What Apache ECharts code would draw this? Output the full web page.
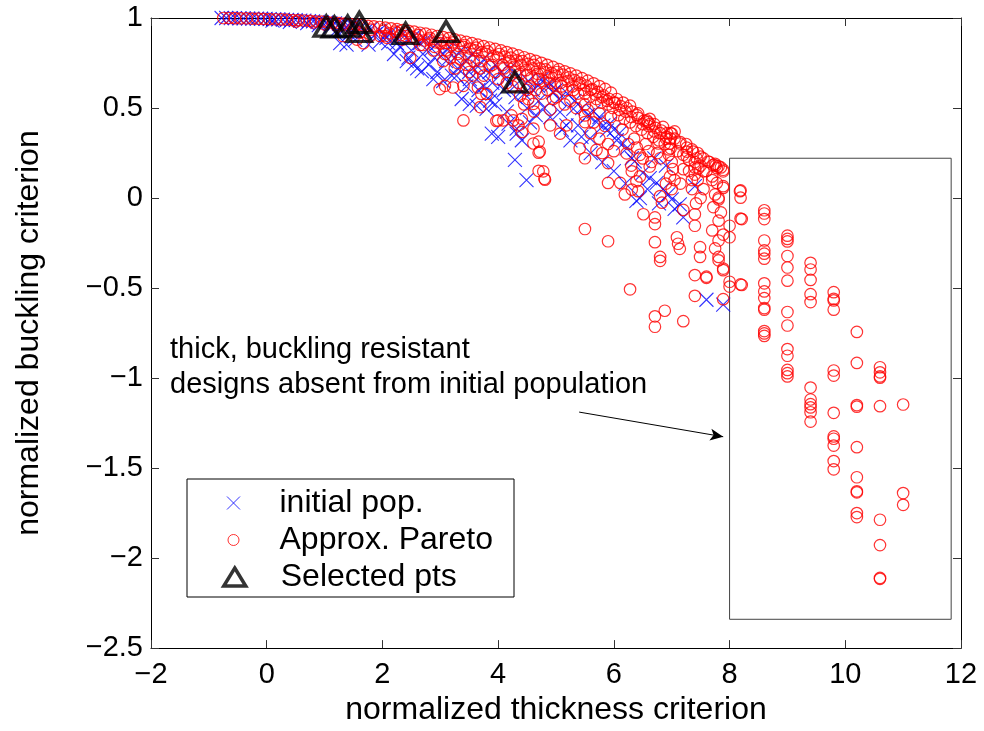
<!DOCTYPE html>
<html><head><meta charset="utf-8">
<script src="https://cdn.jsdelivr.net/npm/echarts@6/dist/echarts.min.js"></script>
<style>html,body{margin:0;padding:0;background:#fff}#c{width:984px;height:731px}</style>
</head><body><div id="c"></div><script>
// ---- data ----
const xRange = [-2, 12, 2];
const yRange = [-2.5, 1, 0.5];

const initialPop = [
[-0.78,1.0],[-0.7,1.0],[-0.62,0.999],[-0.55,0.999],[-0.47,0.998],[-0.4,0.998],[-0.32,0.997],[-0.25,0.997],[-0.17,0.996],[-0.1,0.996],
[-0.02,0.995],[0.05,0.994],[0.13,0.993],[0.2,0.992],[0.28,0.991],[0.35,0.99],[0.43,0.989],[0.5,0.988],[0.58,0.986],[0.65,0.985],
[0.73,0.983],[0.8,0.981],[0.88,0.979],[0.95,0.977],[1.03,0.975],[1.1,0.972],[1.18,0.97],[1.25,0.967],[1.33,0.964],[1.4,0.961],
[1.48,0.958],[1.55,0.955],[0.1,0.985],[0.4,0.978],[0.7,0.972],[0.9,0.96],[1.1,0.95],[1.2,0.93],[1.35,0.94],[1.45,0.92],
[1.27,0.861],[1.38,0.852],[1.53,0.879],[1.76,0.852],[1.96,0.87],[2.07,0.889],[2.25,0.861],
[1.62,0.945],[1.7,0.925],[1.8,0.94],[1.88,0.91],[1.95,0.93],[2.05,0.905],[2.15,0.92],[2.25,0.89],[2.35,0.91],[2.45,0.88],
[2.55,0.9],[2.65,0.86],[2.75,0.88],[2.85,0.83],[2.95,0.86],[3.05,0.8],[3.15,0.84],[3.25,0.78],[3.35,0.82],[3.45,0.76],
[3.55,0.8],[3.65,0.73],[3.75,0.77],[3.85,0.7],[3.95,0.74],
[2.1,0.86],[2.3,0.84],[2.5,0.82],[2.7,0.8],[2.9,0.78],[3.1,0.76],[3.3,0.72],[3.5,0.7],[3.7,0.68],[3.9,0.64],
[4.1,0.6],[4.3,0.56],[4.5,0.5],[4.65,0.46],[2.2,0.8],[2.45,0.78],[2.8,0.74],[3.2,0.68],[3.45,0.62],[3.95,0.52],
[4.15,0.48],[4.55,0.42],[4.9,0.45],[5.1,0.38],[5.25,0.32],
[2.42,0.76],[2.53,0.742],[2.6,0.72],[2.68,0.705],[2.88,0.66],[2.95,0.7],[3.05,0.65],
[3.28,0.678],[3.51,0.66],[3.37,0.55],[3.51,0.523],[3.63,0.513],[3.66,0.6],[3.8,0.495],[3.86,0.541],[3.89,0.358],[4.0,0.34],
[4.32,0.358],[4.41,0.321],[4.29,0.212],[4.49,0.1],[4.18,0.413],[4.32,0.386],[3.75,0.62],[3.9,0.58],
[4.05,0.7],[4.12,0.66],[4.2,0.72],[4.28,0.62],[4.35,0.68],[4.45,0.58],[4.52,0.65],[4.6,0.6],[4.69,0.623],[4.75,0.66],
[4.84,0.623],[4.95,0.587],[4.7,0.54],[4.8,0.5],[4.92,0.63],[5.0,0.6],[5.05,0.55],
[5.07,0.477],[5.18,0.404],[5.3,0.495],[5.38,0.404],[5.44,0.34],[5.59,0.331],[5.7,0.422],[5.82,0.404],[5.93,0.413],[5.88,0.376],
[5.2,0.58],[5.32,0.54],[5.45,0.5],[5.55,0.46],[5.65,0.48],[5.75,0.45],[5.6,0.25],[5.8,0.2],[6.0,0.15],[6.2,0.08],
[6.05,0.321],[6.16,0.303],[6.22,0.276],[6.31,0.221],[6.36,0.203],[6.0,0.38],[6.1,0.36],[6.7,0.22],[6.9,0.18],
[6.39,-0.016],[6.62,0.111],[6.74,0.084],[6.94,0.02],[7.0,-0.008],[7.14,-0.035],[7.2,-0.108],[6.5,0.14],[6.58,0.05],[6.85,0.05],
[7.05,-0.06],[7.4,0.066],[7.6,-0.565],[7.89,-0.592],[6.45,0.0],[6.78,-0.03]
];

const approxPareto = [
[-0.75,1.0],[-0.65,1.0],[-0.55,0.999],[-0.45,0.998],[-0.35,0.998],[-0.25,0.997],[-0.15,0.996],[-0.05,0.995],[0.05,0.994],[0.15,0.993],
[0.25,0.992],[0.35,0.991],[0.45,0.989],[0.55,0.988],[0.65,0.986],[0.75,0.984],[0.85,0.982],[0.95,0.98],[1.05,0.977],[1.15,0.975],
[1.25,0.972],[1.35,0.969],[1.45,0.966],[1.55,0.963],[1.65,0.96],[1.75,0.956],[1.85,0.953],[1.95,0.95],[2.05,0.946],[2.15,0.942],
[2.25,0.938],[2.35,0.933],[2.45,0.929],[2.55,0.924],[2.65,0.918],[2.75,0.913],[2.85,0.907],[2.95,0.9],[3.05,0.894],[3.15,0.888],
[3.25,0.881],[3.35,0.874],[3.45,0.867],[3.55,0.86],[3.65,0.852],[3.75,0.844],[3.85,0.836],[3.95,0.828],[4.05,0.82],[4.15,0.811],
[4.25,0.802],[4.35,0.792],[4.45,0.782],[4.55,0.772],[4.65,0.762],[4.75,0.751],[4.85,0.74],[4.95,0.728],[5.05,0.716],[5.15,0.704],
[5.25,0.692],[5.35,0.68],[5.45,0.666],[5.55,0.652],[5.65,0.637],[5.75,0.622],[5.85,0.606],[5.95,0.585],[6.05,0.55],[6.16,0.53],
[6.28,0.513],[6.42,0.47],[6.57,0.431],[6.7,0.41],[6.85,0.395],[7.0,0.358],[7.14,0.303],[7.26,0.28],[7.37,0.258],[7.5,0.23],
[7.63,0.203],[7.76,0.18],[7.89,0.157],
[0.5,0.98],[0.8,0.975],[1.0,0.965],[1.2,0.96],[1.5,0.945],[1.8,0.935],[1.6,0.92],
[2.02,0.93],[2.12,0.915],[2.22,0.925],[2.32,0.905],[2.42,0.915],[2.52,0.895],[2.62,0.905],[2.72,0.875],[2.82,0.89],[2.92,0.865],
[2.05,0.9],[2.35,0.88],[2.65,0.85],[2.88,0.82],
[3.02,0.875],[3.12,0.86],[3.22,0.865],[3.32,0.845],[3.42,0.85],[3.52,0.83],[3.62,0.835],[3.72,0.81],[3.82,0.815],[3.92,0.79],
[3.08,0.8],[3.18,0.78],[3.35,0.77],[3.45,0.74],[3.58,0.76],[3.68,0.72],[3.85,0.73],[3.95,0.7],[3.55,0.68],[3.3,0.75],
[4.02,0.8],[4.12,0.785],[4.22,0.78],[4.32,0.765],[4.42,0.76],[4.52,0.745],[4.62,0.74],[4.72,0.72],[4.82,0.715],[4.92,0.695],
[4.08,0.74],[4.18,0.7],[4.28,0.73],[4.38,0.69],[4.48,0.71],[4.58,0.67],[4.68,0.69],[4.78,0.65],[4.88,0.67],[4.98,0.63],
[4.15,0.64],[4.35,0.64],[4.55,0.62],[4.65,0.6],[4.85,0.6],[4.95,0.55],[4.45,0.52],[4.62,0.48],
[5.02,0.7],[5.12,0.685],[5.22,0.67],[5.32,0.655],[5.42,0.64],[5.52,0.625],[5.62,0.605],[5.72,0.59],[5.82,0.57],[5.92,0.55],
[5.08,0.64],[5.18,0.6],[5.28,0.62],[5.38,0.58],[5.48,0.6],[5.58,0.56],[5.68,0.575],[5.78,0.53],[5.88,0.54],[5.98,0.5],
[5.15,0.52],[5.35,0.5],[5.55,0.49],[5.75,0.47],[5.95,0.45],[5.65,0.42],[5.85,0.4],
[5.6,0.36],[5.75,0.33],[5.9,0.3],[6.0,0.26],[5.8,0.25],
[6.02,0.53],[6.12,0.51],[6.22,0.5],[6.32,0.48],[6.42,0.445],[6.52,0.43],[6.62,0.41],[6.72,0.39],[6.82,0.375],[6.92,0.36],
[6.08,0.46],[6.18,0.44],[6.28,0.42],[6.38,0.4],[6.48,0.38],[6.58,0.36],[6.68,0.34],[6.78,0.32],[6.88,0.3],[6.95,0.27],
[6.15,0.38],[6.35,0.33],[6.55,0.3],[6.75,0.25],[6.45,0.24],[6.65,0.2],
[6.25,0.3],[6.4,0.28],[6.5,0.22],[6.6,0.26],[6.3,0.18],[6.45,0.12],
[6.95,0.24],[7.0,0.2],[7.02,0.16],[6.97,0.12],[7.05,0.1],[6.9,0.08],[7.0,0.05],
[7.05,0.33],[7.15,0.31],[7.25,0.3],[7.35,0.27],[7.45,0.25],[7.55,0.22],[7.65,0.2],[7.75,0.19],[7.85,0.17],[7.1,0.26],
[7.2,0.24],[7.3,0.21],[7.5,0.18],[7.6,0.15],[7.7,0.12],[7.2,0.16],[7.35,0.1],[7.55,0.05],[7.15,0.08],
[7.3,0.15],[7.45,0.1],[7.35,0.05],[7.5,0.0],[7.42,-0.03],
[7.7,0.1],[7.75,0.02],[7.72,-0.05],[7.85,-0.08],[7.7,-0.18],[7.75,-0.28],
[1.32,0.9],[1.56,0.88],[1.67,0.86],[1.79,0.9],[1.96,0.9],[2.08,0.89],[2.25,0.92],[2.4,0.9],[2.48,0.779],[2.6,0.88],
[2.7,0.85],[2.8,0.88],[2.9,0.84],[3.0,0.86],[3.1,0.82],[3.2,0.85],[3.3,0.8],[3.4,0.84],[3.5,0.78],[3.6,0.82],
[3.7,0.76],[3.8,0.8],[3.9,0.74],[4.0,0.78],[4.1,0.72],[4.2,0.76],[4.3,0.7],[4.4,0.74],[4.5,0.68],[4.6,0.72],
[4.7,0.66],[4.8,0.7],[4.9,0.64],[5.0,0.68],[5.1,0.62],[5.2,0.65],[5.3,0.6],[5.4,0.63],[5.5,0.58],[5.6,0.6],
[5.7,0.55],[5.8,0.56],[5.9,0.52],[6.0,0.53],[6.1,0.49],[6.2,0.48],[6.3,0.45],[6.4,0.46],[6.5,0.41],[6.6,0.4],
[6.7,0.37],[6.8,0.36],[6.9,0.33],
[3.05,0.76],[3.25,0.72],[3.5,0.7],[3.75,0.68],[4.0,0.66],[4.25,0.62],[4.5,0.6],[4.75,0.58],[5.0,0.56],[5.25,0.54],[5.5,0.52],
[2.99,0.605],[3.08,0.623],[3.22,0.614],[3.4,0.623],[3.4,0.431],[3.65,0.614],[3.71,0.578],[3.69,0.505],[3.8,0.578],
[4.0,0.431],[4.09,0.431],[4.23,0.459],[4.35,0.404],[4.41,0.367],[4.61,0.386],[4.7,0.313],[4.72,0.258],[4.78,0.148],[4.81,0.102],
[4.38,0.568],[4.52,0.55],[4.61,0.523],[3.97,0.428],[4.26,0.431],[4.41,0.44],[4.61,0.303],[4.7,0.252],[4.7,0.151],[4.8,0.107],
[4.9,0.491],[4.9,0.404],[5.07,0.358],[5.18,0.404],[5.5,0.459],[5.5,0.422],[5.41,0.276],[5.5,0.221],[5.5,-0.172],[5.7,0.267],
[5.9,0.194],[5.9,0.084],[5.9,-0.24],
[6.11,0.084],[6.19,0.02],[6.31,0.047],[6.22,0.248],[6.31,0.148],[6.28,-0.507],[6.39,0.093],[6.42,0.038],[6.51,-0.09],[6.59,0.422],
[6.62,0.44],[6.62,0.175],[6.71,-0.245],[6.71,-0.108],[6.71,-0.145],[6.8,-0.327],[6.8,-0.349],[6.71,-0.657],[6.71,-0.715],[6.88,-0.626],
[6.8,0.011],[6.83,-0.026],[6.91,0.34],[6.97,0.303],[6.98,0.276],[6.77,0.303],[6.8,0.221],[6.98,0.33],[6.98,0.36],[7.05,0.37],
[7.09,-0.218],[7.11,-0.254],[7.14,-0.282],[7.2,-0.066],[7.2,-0.684],[7.26,0.258],[7.26,0.23],[7.4,-0.09],[7.4,-0.154],[7.4,-0.428],
[7.4,-0.543],[7.49,-0.327],[7.49,-0.273],[7.6,-0.437],[7.78,0.084],[7.81,0.002],[7.81,-0.126],[7.81,-0.236],[7.81,-0.327],[7.81,-0.346],
[7.89,0.056],[7.89,-0.392],[7.89,-0.562],[8.0,-0.154],[8.0,-0.218],[8.0,-0.465],[8.0,-0.492],[8.21,-0.483],[8.18,0.038],[8.21,-0.117],
[7.43,0.221],[7.46,0.166],[7.55,0.148],[7.72,0.184],[7.78,0.166],[7.89,0.066],[7.4,0.2],[7.4,0.17],[7.4,0.13],[7.81,0.176],
[7.89,0.148],[7.81,-0.008],[7.89,-0.203],[7.6,-0.443],[7.89,-0.401],
[8.19,0.042],[8.19,0.002],[8.19,-0.114],[8.19,-0.48],
[8.6,-0.068],[8.6,-0.086],[8.6,-0.117],[8.6,-0.236],[8.6,-0.291],[8.6,-0.309],[8.6,-0.337],[8.6,-0.474],[8.6,-0.519],[8.6,-0.556],
[8.6,-0.611],[8.6,-0.62],[8.6,-0.739],[8.6,-0.752],[8.6,-0.766],
[9.0,-0.209],[9.0,-0.227],[9.0,-0.241],[9.0,-0.322],[9.0,-0.386],[9.0,-0.459],[9.0,-0.633],[9.0,-0.708],[9.0,-0.839],[9.0,-0.876],
[9.0,-0.955],[9.0,-0.973],[9.0,-0.991],
[9.4,-0.36],[9.4,-0.397],[9.4,-0.455],[9.4,-0.534],[9.4,-0.578],[9.4,-1.053],[9.4,-1.119],[9.4,-1.145],[9.4,-1.163],[9.4,-1.19],[9.4,-1.242],
[9.8,-0.523],[9.8,-0.56],[9.8,-0.569],[9.8,-0.62],[9.8,-0.958],[9.8,-0.986],[9.8,-1.193],[9.8,-1.324],[9.8,-1.337],[9.8,-1.375],[9.8,-1.461],[9.8,-1.507],
[10.2,-0.744],[10.2,-0.916],[10.2,-1.15],[10.2,-1.159],[10.2,-1.384],[10.2,-1.551],[10.2,-1.629],[10.2,-1.635],[10.2,-1.75],[10.2,-1.772],
[10.6,-0.94],[10.6,-0.968],[10.6,-0.991],[10.6,-0.998],[10.6,-1.156],[10.6,-1.787],[10.6,-1.928],[10.6,-2.11],[10.6,-2.115],
[11.0,-1.147],[11.0,-1.639],[11.0,-1.704]
];

const selectedPts = [
[1.03,0.955],[1.17,0.95],[1.4,0.955],[1.6,0.975],[1.6,0.925],[2.4,0.915],[3.1,0.925],[4.29,0.645]
];

// annotation box: [xmin, xmax, ymax, ymin] and arrow endpoints (data units)
const annotBox = [8.0, 11.83, 0.221, -2.34];
const arrowFrom = [5.4, -1.189];
const arrowTo = [7.89, -1.326];

const seriesNames = ['initial pop.', 'Approx. Pareto', 'Selected pts'];
const annotLines = ['thick, buckling resistant', 'designs absent from initial population'];
const xTitle = 'normalized thickness criterion';
const yTitle = 'normalized buckling criterion';

// ---- chart ----
const FONT = 'Liberation Sans, Arial, Helvetica, sans-serif';
const X_PATH = 'path://M0,0L10,10M10,0L0,10';
const fmt = v => String(v).replace('-', '\u2212');

const boxPath = [
  [annotBox[0], annotBox[2]], [annotBox[1], annotBox[2]],
  [annotBox[1], annotBox[3]], [annotBox[0], annotBox[3]], [annotBox[0], annotBox[2]]
];

const axisCommon = {
  type: 'value',
  splitLine: { show: false },
  axisLine: { show: true, onZero: false, lineStyle: { color: '#000', width: 1 } },
  axisTick: { show: true, inside: true, length: 8, lineStyle: { color: '#333', width: 1 } }
};

const chart = echarts.init(document.getElementById('c'), null, { renderer: 'canvas' });
chart.setOption({
  animation: false,
  backgroundColor: '#fff',
  textStyle: { fontFamily: FONT },
  grid: { left: 151, top: 18, right: 23, bottom: 75, containLabel: false },
  xAxis: [
    Object.assign({}, axisCommon, {
      min: xRange[0], max: xRange[1], interval: xRange[2], position: 'bottom',
      axisLabel: { fontSize: 29, color: '#000', margin: 12, fontFamily: FONT, formatter: fmt },
      name: xTitle, nameLocation: 'middle', nameGap: 42,
      nameTextStyle: { fontSize: 32, color: '#000', fontFamily: FONT }
    }),
    Object.assign({}, axisCommon, {
      min: xRange[0], max: xRange[1], interval: xRange[2], position: 'top',
      axisLabel: { show: false }
    })
  ],
  yAxis: [
    Object.assign({}, axisCommon, {
      min: yRange[0], max: yRange[1], interval: yRange[2], position: 'left',
      axisLabel: { fontSize: 29, color: '#000', margin: 8, fontFamily: FONT, formatter: fmt },
      name: yTitle, nameLocation: 'middle', nameGap: 106, nameRotate: 90,
      nameTextStyle: { fontSize: 32, color: '#000', fontFamily: FONT }
    }),
    Object.assign({}, axisCommon, {
      min: yRange[0], max: yRange[1], interval: yRange[2], position: 'right',
      axisLabel: { show: false }
    })
  ],
  legend: [
    { data: [seriesNames[0]], left: 226.5, top: 485, itemWidth: 13, itemHeight: 13, padding: 0, z: 6,
      selectedMode: false, icon: X_PATH,
      itemStyle: { color: 'transparent', borderColor: '#00f', borderWidth: 1 },
      textStyle: { fontSize: 32, color: '#000', fontFamily: FONT, lineHeight: 36, padding: [0, 0, 0, 34.5] } },
    { data: [seriesNames[1]], left: 227.5, top: 522, itemWidth: 11, itemHeight: 11, padding: 0, z: 6,
      selectedMode: false, icon: 'circle',
      itemStyle: { color: 'transparent', borderColor: '#f00', borderWidth: 1 },
      textStyle: { fontSize: 32, color: '#000', fontFamily: FONT, lineHeight: 36, padding: [0, 0, 0, 35.5] } },
    { data: [seriesNames[2]], left: 222, top: 559, itemWidth: 22, itemHeight: 18, padding: 0, z: 6,
      selectedMode: false, icon: 'triangle',
      itemStyle: { color: 'transparent', borderColor: '#000', borderWidth: 3.5 },
      textStyle: { fontSize: 32, color: '#000', fontFamily: FONT, lineHeight: 36, padding: [0, 0, 0, 30] } }
  ],
  graphic: [
    { type: 'rect', z: 5, shape: { x: 187, y: 479, width: 327, height: 118 },
      style: { fill: '#fff', stroke: '#000', lineWidth: 1 } },
    { type: 'text', z: 5, left: 170, top: 332,
      style: { text: annotLines.join('\n'), font: '29px ' + FONT, lineHeight: 35, fill: '#000' } }
  ],
  series: [
    { name: 'annotation', type: 'line', data: boxPath, symbol: 'none', silent: true, z: 1,
      lineStyle: { color: '#444', width: 1 },
      markLine: { silent: true, symbol: ['none', 'arrow'], symbolSize: [9, 13],
        label: { show: false }, lineStyle: { color: '#000', width: 1, type: 'solid' },
        emphasis: { disabled: true }, animation: false,
        data: [[{ coord: arrowFrom }, { coord: arrowTo }]] } },
    { name: seriesNames[0], type: 'scatter', data: initialPop, symbol: X_PATH, symbolSize: 14, z: 2,
      itemStyle: { color: 'transparent', borderColor: '#00f', borderWidth: 1.1 }, silent: true },
    { name: seriesNames[1], type: 'scatter', data: approxPareto, symbol: 'circle', symbolSize: 11.5, z: 3,
      itemStyle: { color: 'transparent', borderColor: '#f00', borderWidth: 1.2 }, silent: true },
    { name: seriesNames[2], type: 'scatter', data: selectedPts, symbol: 'triangle', symbolSize: [24, 20], z: 4,
      itemStyle: { color: 'transparent', borderColor: '#000', borderWidth: 3.5 }, silent: true }
  ]
});
</script></body></html>
